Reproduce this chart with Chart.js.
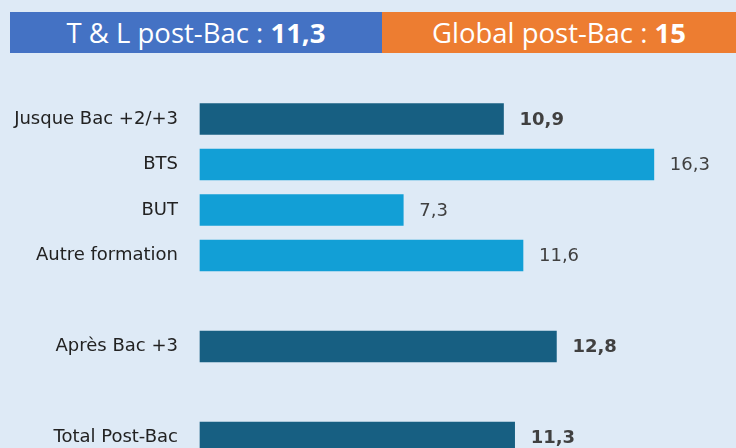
<!DOCTYPE html>
<html>
<head>
<meta charset="utf-8">
<script src="https://cdn.jsdelivr.net/npm/chart.js@4/dist/chart.umd.min.js"></script>
<style>
  html, body { margin: 0; padding: 0; }
  body { width: 736px; height: 448px; overflow: hidden; background: #deeaf6; position: relative; }
  .hdr { position: absolute; top: 12px; height: 41px; line-height: 41px; color: #fff; text-align: center;
         font-family: "Open Sans", sans-serif; font-size: 27.5px; white-space: nowrap; }
  .hdr b { font-weight: 700; }
  #hdr-tl { left: 10px; width: 372px; background: #4472c4; }
  #hdr-global { left: 382px; width: 354px; background: #ed7d31; }
  #chart { position: absolute; left: 0; top: 0; }
</style>
</head>
<body>
<canvas id="chart" width="736" height="448"></canvas>
<div class="hdr" id="hdr-tl">T &amp; L post-Bac : <b>11,3</b></div>
<div class="hdr" id="hdr-global">Global post-Bac : <b>15</b></div>
<script>
// Rows top to bottom; empty labels are the spacer rows between groups.
const CATEGORIES = ["Jusque Bac +2/+3", "BTS", "BUT", "Autre formation", "", "Après Bac +3", "", "Total Post-Bac"];
const VALUES = [10.9, 16.3, 7.3, 11.6, null, 12.8, null, 11.3];
// Summary rows are drawn dark with a bold value label.
const SUMMARY = [true, false, false, false, false, true, false, true];

const DARK = "#175f82";
const LIGHT = "#129fd6";

const fmtFr = (v) => v.toFixed(1).replace(".", ",");

// value label just past the end of each bar
const valueLabels = {
  id: "valueLabels",
  afterDatasetsDraw(chart) {
    const ctx = chart.ctx;
    const meta = chart.getDatasetMeta(0);
    ctx.save();
    ctx.textBaseline = "middle";
    ctx.textAlign = "left";
    ctx.fillStyle = "#404040";
    meta.data.forEach((bar, i) => {
      const v = VALUES[i];
      if (v == null) return;
      ctx.font = (SUMMARY[i] ? "bold " : "") + "18px 'DejaVu Sans', sans-serif";
      ctx.fillText(fmtFr(v), bar.x + 16, bar.y + 1);
    });
    ctx.restore();
  },
};

new Chart(document.getElementById("chart"), {
  type: "bar",
  data: {
    labels: CATEGORIES,
    datasets: [{
      data: VALUES,
      backgroundColor: SUMMARY.map((s) => (s ? DARK : LIGHT)),
      barThickness: 31,
      clip: false,
    }],
  },
  options: {
    indexAxis: "y",
    responsive: false,
    animation: false,
    // rows sit on the area edges (offset off); last bar runs off the bottom
    layout: { padding: { top: 119, bottom: 10.5, left: 0, right: 0 } },
    plugins: { legend: { display: false }, tooltip: { enabled: false } },
    scales: {
      x: { display: false, min: 0, max: 19.25 },
      y: {
        offset: false,
        grid: { display: false, drawTicks: false },
        border: { display: false },
        ticks: {
          padding: 22,
          color: "#222",
          font: { family: "'DejaVu Sans', sans-serif", size: 18 },
        },
        afterFit: (axis) => {
          axis.width = 200;
          // don't reserve room for the end labels' overhang
          axis.paddingTop = 0;
          axis.paddingBottom = 0;
        },
      },
    },
  },
  plugins: [valueLabels],
});
</script>
</body>
</html>
